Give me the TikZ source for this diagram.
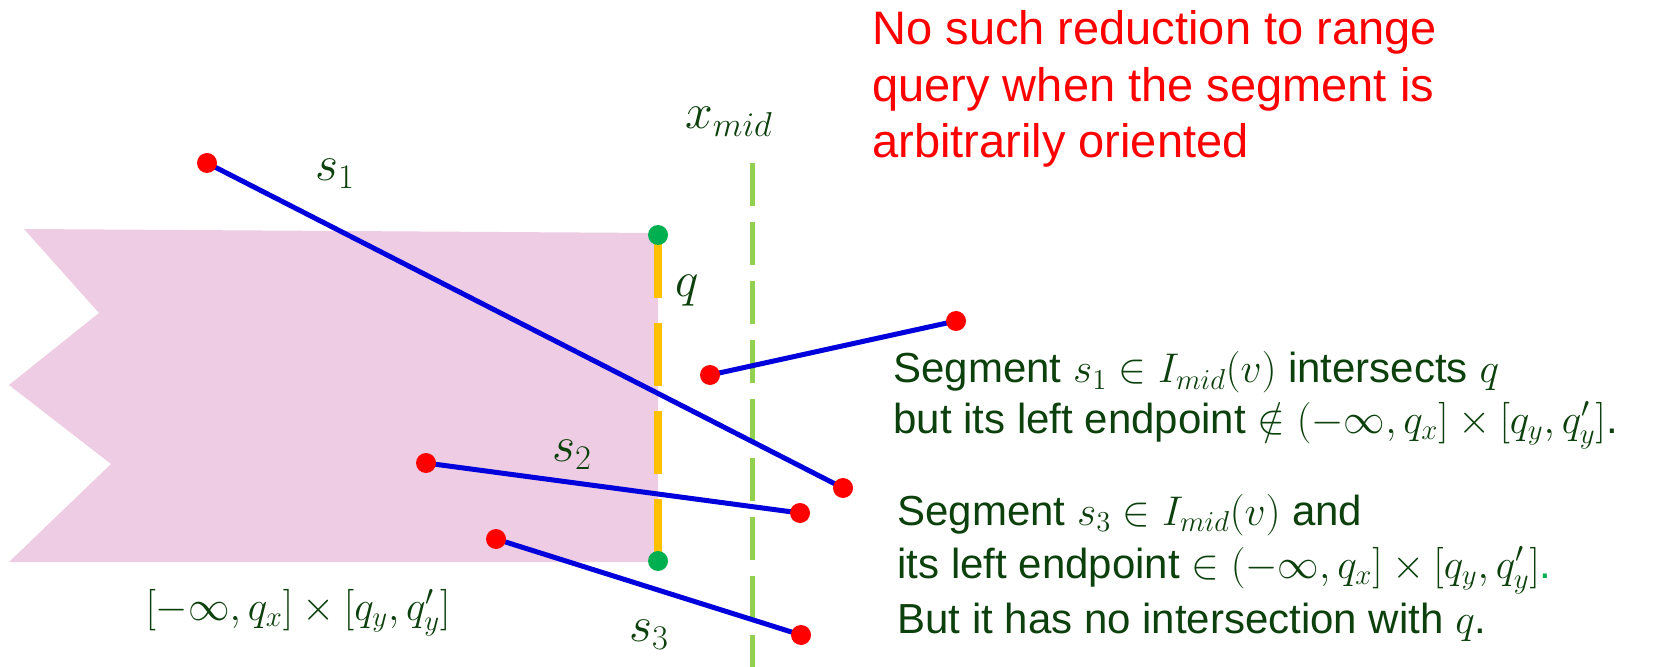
\documentclass[tikz,border=0pt]{standalone}
\usepackage{fontspec}
\setmainfont{Liberation Sans}
\definecolor{regpink}{RGB}{238,205,228}
\definecolor{segblue}{RGB}{0,0,220}
\definecolor{dotgreen}{RGB}{0,176,80}
\definecolor{qorange}{RGB}{255,192,0}
\definecolor{xmidgreen}{RGB}{146,208,80}
\definecolor{txtgreen}{RGB}{12,64,12}
\begin{document}
\begin{tikzpicture}[x=0.5pt, y=-0.5pt,
  seg/.style={draw=segblue, line width=2.5pt},
  lbl/.style={text=txtgreen, inner sep=0pt, font=\fontsize{25}{30}\selectfont},
  note/.style={text=txtgreen, anchor=base west, inner sep=0pt, font=\fontsize{21}{25}\selectfont},
  warn/.style={text=red, anchor=base west, inner sep=0pt, font=\fontsize{23.5}{28}\selectfont}]
  \useasboundingbox (0,0) rectangle (1657,667);
  % query region
  \fill[regpink] (24,229) -- (658,233) -- (658,562) -- (9,562) -- (111,464) -- (9,385) -- (99,313) -- cycle;
  \draw[xmidgreen, line width=2.5pt, dash pattern=on 21.5pt off 8pt] (752,163) -- (752,667);
  \coordinate (qa) at (658,235); \coordinate (qb) at (658,561);
  \draw[qorange, line width=4pt, dash pattern=on 31.5pt off 12.5pt] (qa) -- (qb);
  \foreach \p in {qa,qb} \fill[dotgreen] (\p) circle (5pt);
  % segments
  \coordinate (s1a) at (207,163); \coordinate (s1b) at (843,488);
  \coordinate (s2a) at (426,463); \coordinate (s2b) at (800,513);
  \coordinate (s3a) at (496,539); \coordinate (s3b) at (801,635);
  \coordinate (s4a) at (710,375); \coordinate (s4b) at (956,321);
  \draw[seg] (s1a)--(s1b); \draw[seg] (s2a)--(s2b);
  \draw[seg] (s3a)--(s3b); \draw[seg] (s4a)--(s4b);
  \foreach \p in {s1a,s1b,s2a,s2b,s3a,s3b,s4a,s4b}
    \fill[red] (\p) circle (5pt);
  % labels
  \node[lbl] (xmid) at (729,122) {$x_{mid}$};
  \node[lbl] (qlbl) at (687,291) {$q$};
  \node[lbl] (s1lbl) at (335,174) {$s_1$};
  \node[lbl] (s2lbl) at (572,455) {$s_2$};
  \node[lbl] (s3lbl) at (649,635) {$s_3$};
  \node[lbl, font=\fontsize{21}{24}\selectfont] (rng) at (298,613) {$[-\infty, q_x] \times [q_y, q'_y]$};
  % notes
  \node[warn] (w1) at (872,45) {No such reduction to range};
  \node[warn] (w2) at (872,102) {query when the segment is};
  \node[warn] (w3) at (872,158) {arbitrarily oriented};
  \node[note] (n1) at (893,383) {Segment $s_1 \in I_{mid}(v)$ intersects $q$};
  \node[note] (n2) at (893,433) {but its left endpoint $\notin (-\infty, q_x] \times [q_y, q'_y]$.};
  \node[note] (n3) at (897,525) {Segment $s_3 \in I_{mid}(v)$ and};
  \node[note] (n4) at (897,578) {its left endpoint $\in (-\infty, q_x] \times [q_y, q'_y]${\color{dotgreen}.}};
  \node[note] (n5) at (897,633) {But it has no intersection with $q$.};
\end{tikzpicture}
\end{document}
